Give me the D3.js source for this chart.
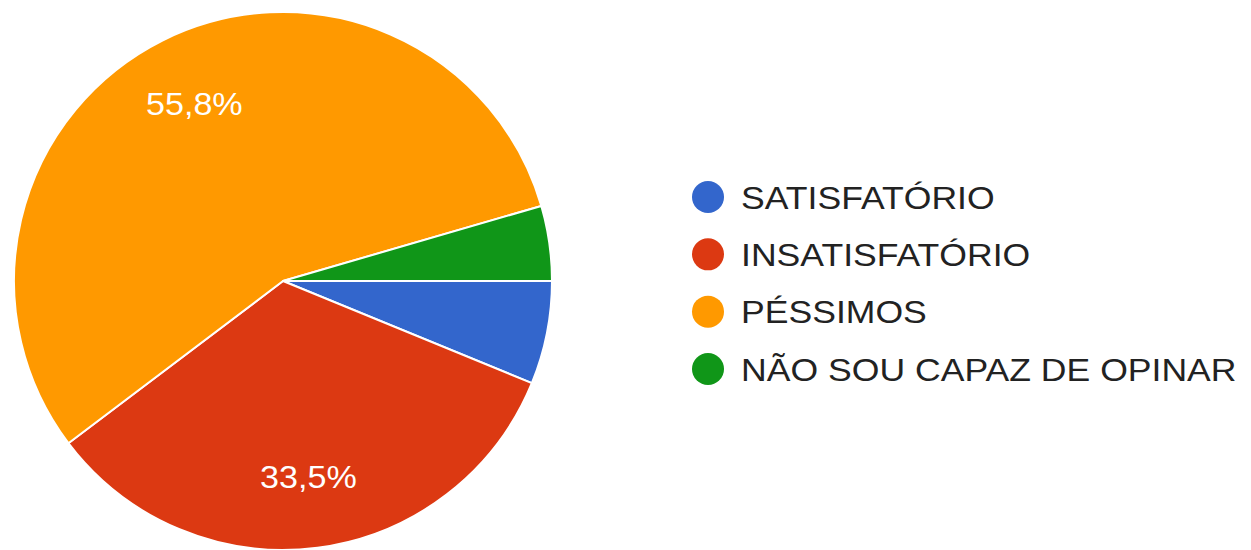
<!DOCTYPE html>
<html>
<head>
<meta charset="utf-8">
<script src="https://cdn.jsdelivr.net/npm/d3@7"></script>
<style>
  html, body { margin: 0; padding: 0; background: #ffffff; }
  svg { display: block; }
</style>
</head>
<body>
<svg id="chart" width="1251" height="550"></svg>
<script>
const categories = ["SATISFATÓRIO", "INSATISFATÓRIO", "PÉSSIMOS", "NÃO SOU CAPAZ DE OPINAR"];
const values = [6.2, 33.5, 55.8, 4.5];
const colors = ["#3366cc", "#dc3912", "#ff9900", "#109618"];
const sliceLabels = ["", "33,5%", "55,8%", ""];

const svg = d3.select("#chart");
const cx = 283, cy = 281, r = 269;
const font = "'Liberation Sans', Arial, sans-serif";

const pie = d3.pie().sort(null).value(d => d.v)
  .startAngle(Math.PI / 2).endAngle(Math.PI / 2 + 2 * Math.PI);
const data = categories.map((c, i) => ({ c, v: values[i], col: colors[i], lab: sliceLabels[i] }));
const arcs = pie(data);

const arc = d3.arc().innerRadius(0).outerRadius(r);
const labelArc = d3.arc().innerRadius(r * 0.735).outerRadius(r * 0.735);

const g = svg.append("g").attr("transform", `translate(${cx},${cy})`);
g.selectAll("path").data(arcs).enter().append("path")
  .attr("d", arc)
  .attr("fill", d => d.data.col)
  .attr("stroke", "#ffffff")
  .attr("stroke-width", 2)
  .attr("stroke-linejoin", "round");

g.selectAll("text.lbl").data(arcs.filter(d => d.data.lab)).enter().append("text")
  .attr("class", "lbl")
  .attr("transform", d => `translate(${labelArc.centroid(d)}) scale(1.1,1)`)
  .attr("text-anchor", "middle")
  .attr("dominant-baseline", "central")
  .attr("fill", "#ffffff")
  .style("font-family", font)
  .style("font-size", "31px")
  .text(d => d.data.lab);

const legendY = d3.scalePoint().domain(categories).range([197, 369]);
const lg = svg.append("g");
const items = lg.selectAll("g").data(data).enter().append("g")
  .attr("transform", d => `translate(0,${legendY(d.c)})`);
items.append("circle")
  .attr("cx", 708).attr("cy", 0).attr("r", 16)
  .attr("fill", d => d.col);
items.append("text")
  .attr("transform", "translate(741,1) scale(1.13,1)")
  .attr("dominant-baseline", "central")
  .attr("fill", "#222222")
  .style("font-family", font)
  .style("font-size", "31.5px")
  .text(d => d.c);
</script>
</body>
</html>
